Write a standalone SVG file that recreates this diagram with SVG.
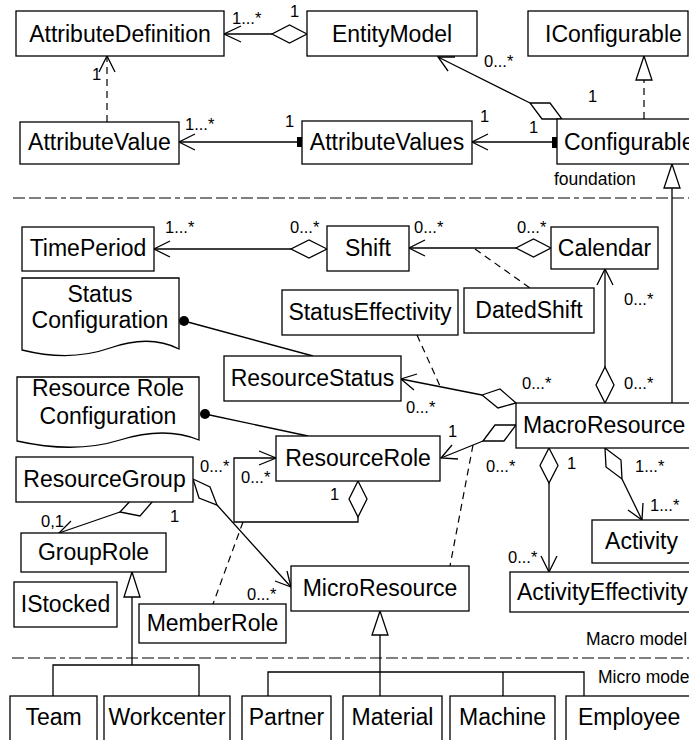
<svg xmlns="http://www.w3.org/2000/svg" width="689" height="740" viewBox="0 0 689 740">
  <style>
    text { font-family: "Liberation Sans", Arial, sans-serif; fill: #000; }
    .n { font-size: 23px; }
    .c { text-anchor: middle; }
    .m { font-size: 16.5px; }
    .s { font-size: 17.5px; }
    rect, .doc { fill: #fff; stroke: #000; stroke-width: 1.3; }
    .ln { fill: none; stroke: #000; stroke-width: 1.3; }
    .dash { fill: none; stroke: #000; stroke-width: 1.2; stroke-dasharray: 7 5; }
    .sep { fill: none; stroke: #555; stroke-width: 1.3; stroke-dasharray: 12 4 12 4 12 4 5 4; }
    .dia { fill: #fff; stroke: #000; stroke-width: 1.3; }
    .tri { fill: #fff; stroke: #000; stroke-width: 1.3; }
  </style>

  <rect x="0" y="0" width="689" height="740" style="fill:#fff;stroke:none"/>

  <!-- package separators -->
  <g id="separators">
    <line class="sep" x1="13" y1="198" x2="689" y2="198"/>
    <line class="sep" x1="12" y1="658" x2="689" y2="658"/>
    <text class="s" x="554" y="185">foundation</text>
    <text class="s" x="586" y="645">Macro model</text>
    <text class="s" x="598" y="683">Micro model</text>
  </g>

  <!-- connectors -->
  <g id="connectors">
    <!-- EntityModel aggregates AttributeDefinition -->
    <line class="ln" x1="272" y1="34" x2="224" y2="34"/>
    <polyline class="ln" points="241,26 224,34 241,42"/>
    <polygon class="dia" points="307,34 289.5,25 272,34 289.5,43"/>
    <text class="m" x="232" y="24">1...*</text>
    <text class="m" x="290" y="17">1</text>

    <!-- AttributeValue depends on AttributeDefinition -->
    <line class="dash" x1="107" y1="122" x2="107" y2="57"/>
    <polyline class="ln" points="99,72 107,56 115,72"/>
    <text class="m" x="92" y="80">1</text>

    <!-- AttributeValues to AttributeValue -->
    <line class="ln" x1="297" y1="142" x2="179" y2="142"/>
    <polyline class="ln" points="195,134 179,142 195,150"/>
    <rect x="297" y="137" width="10" height="10" style="fill:#000;stroke:none"/>
    <text class="m" x="185" y="130">1...*</text>
    <text class="m" x="285" y="127">1</text>

    <!-- Configurable to AttributeValues -->
    <line class="ln" x1="552" y1="142" x2="472" y2="142"/>
    <polyline class="ln" points="488,134 472,142 488,150"/>
    <rect x="552" y="137" width="10" height="11" style="fill:#000;stroke:none"/>
    <text class="m" x="480" y="122">1</text>
    <text class="m" x="529" y="133">1</text>

    <!-- Configurable aggregates EntityModel -->
    <line class="ln" x1="530" y1="103" x2="438" y2="57"/>
    <polyline class="ln" points="448,71 438,57 455,57"/>
    <polygon class="dia" points="530,103 550,103 562,119 542,119"/>
    <text class="m" x="484" y="67">0...*</text>
    <text class="m" x="588" y="102">1</text>

    <!-- Configurable realizes IConfigurable -->
    <line class="dash" x1="644" y1="119" x2="644" y2="80"/>
    <polygon class="tri" points="644,56 636,80 652,80"/>

    <!-- MacroResource generalizes to Configurable -->
    <line class="ln" x1="672" y1="188" x2="672" y2="403"/>
    <polygon class="tri" points="672,164 664,188 680,188"/>

    <!-- Shift aggregates TimePeriod -->
    <line class="ln" x1="291" y1="249" x2="154" y2="249"/>
    <polyline class="ln" points="170,241 154,249 170,257"/>
    <polygon class="dia" points="327,249 309,240 291,249 309,258"/>
    <text class="m" x="165" y="233">1...*</text>
    <text class="m" x="290" y="233">0...*</text>

    <!-- Calendar aggregates Shift, with DatedShift association class -->
    <line class="ln" x1="516" y1="248" x2="409" y2="248"/>
    <polyline class="ln" points="425,240 409,248 425,256"/>
    <polygon class="dia" points="551,248 533.5,239 516,248 533.5,257"/>
    <text class="m" x="414" y="233">0...*</text>
    <text class="m" x="517" y="233">0...*</text>
    <line class="dash" x1="475" y1="249" x2="530" y2="288"/>

    <!-- MacroResource aggregates Calendar -->
    <line class="ln" x1="605" y1="367" x2="605" y2="269"/>
    <polyline class="ln" points="597,285 605,269 613,285"/>
    <polygon class="dia" points="605,403 614,385 605,367 596,385"/>
    <text class="m" x="624" y="305">0...*</text>
    <text class="m" x="624" y="389">0...*</text>

    <!-- StatusConfiguration note attached to ResourceStatus -->
    <line class="ln" x1="184" y1="321" x2="313" y2="356"/>
    <circle cx="184" cy="321" r="5" fill="#000"/>

    <!-- MacroResource aggregates ResourceStatus, with StatusEffectivity -->
    <line class="ln" x1="482" y1="395" x2="401" y2="379"/>
    <polyline class="ln" points="417,374 401,379 414,390"/>
    <polygon class="dia" points="482,395 500,389 516,403 498,408"/>
    <line class="dash" x1="417" y1="335" x2="440" y2="386"/>
    <text class="m" x="522" y="389">0...*</text>
    <text class="m" x="406" y="413">0...*</text>

    <!-- ResourceRoleConfiguration note attached to ResourceRole -->
    <line class="ln" x1="205" y1="414" x2="308" y2="436"/>
    <circle cx="205" cy="414" r="5" fill="#000"/>

    <!-- MacroResource aggregates ResourceRole, with MicroResource -->
    <line class="ln" x1="483" y1="441" x2="441" y2="458"/>
    <polyline class="ln" points="452,445 441,458 458,459"/>
    <polygon class="dia" points="483,441 495,425 516,425 504,441"/>
    <line class="dash" x1="473" y1="445" x2="450" y2="566"/>
    <text class="m" x="448" y="437">1</text>
    <text class="m" x="486" y="472">0...*</text>

    <!-- ResourceRole self association, with MemberRole -->
    <polyline class="ln" points="276,458 234,458 234,522 358,522 358,517"/>
    <polyline class="ln" points="259,451 276,458 259,465"/>
    <polygon class="dia" points="358,481 367,499 358,517 349,499"/>
    <line class="dash" x1="243" y1="522" x2="213" y2="604"/>
    <text class="m" x="200" y="472">0...*</text>
    <text class="m" x="241" y="483">0...*</text>
    <text class="m" x="330" y="500">1</text>

    <!-- ResourceGroup aggregates MicroResource -->
    <line class="ln" x1="217" y1="505" x2="291" y2="587"/>
    <polyline class="ln" points="287,571 291,587 275,581"/>
    <polygon class="dia" points="193,479 210,487 217,505 199,498"/>
    <text class="m" x="170" y="522">1</text>
    <text class="m" x="247" y="600">0...*</text>

    <!-- ResourceGroup aggregates GroupRole -->
    <line class="ln" x1="120" y1="512" x2="59" y2="533"/>
    <polyline class="ln" points="71,521 59,533 76,536"/>
    <polygon class="dia" points="120,512 133,498 153,501 140,516"/>
    <text class="m" x="41" y="527">0,1</text>

    <!-- MacroResource aggregates ActivityEffectivity -->
    <line class="ln" x1="549" y1="483" x2="549" y2="572"/>
    <polyline class="ln" points="541,556 549,572 557,556"/>
    <polygon class="dia" points="549,448 558,465.5 549,483 540,465.5"/>
    <text class="m" x="567" y="469">1</text>
    <text class="m" x="508" y="563">0...*</text>

    <!-- MacroResource aggregates Activity -->
    <line class="ln" x1="622" y1="479" x2="642" y2="520"/>
    <polyline class="ln" points="628,510 642,520 643,503"/>
    <polygon class="dia" points="605,448 621,460 622,479 606,467"/>
    <text class="m" x="635" y="472">1...*</text>
    <text class="m" x="650" y="511">1...*</text>

    <!-- GroupRole generalization tree -->
    <polygon class="tri" points="132,572 124,597 140,597"/>
    <polyline class="ln" points="132,597 132,665"/>
    <polyline class="ln" points="53,696 53,665 199,665 199,696"/>

    <!-- MicroResource generalization tree -->
    <polygon class="tri" points="380,611 372,635 388,635"/>
    <line class="ln" x1="380" y1="635" x2="380" y2="696"/>
    <polyline class="ln" points="268,696 268,672 584,672 584,696"/>
    <line class="ln" x1="503" y1="672" x2="503" y2="696"/>
  </g>

  <!-- foundation package -->
  <g id="AttributeDefinition"><rect x="16" y="11" width="208" height="45"/><text class="n c" x="120" y="41.5">AttributeDefinition</text></g>
  <g id="EntityModel"><rect x="307" y="11" width="170" height="45"/><text class="n c" x="392" y="41.5">EntityModel</text></g>
  <g id="IConfigurable"><rect x="528" y="11" width="160" height="45"/><text class="n" x="545" y="41.5">IConfigurable</text></g>
  <g id="AttributeValue"><rect x="20" y="122" width="159" height="42"/><text class="n c" x="99.5" y="150">AttributeValue</text></g>
  <g id="AttributeValues"><rect x="302" y="121" width="170" height="43"/><text class="n c" x="387" y="150">AttributeValues</text></g>
  <g id="Configurable"><rect x="557" y="119" width="145" height="45"/><text class="n" x="564" y="150">Configurable</text></g>

  <!-- macro model package -->
  <g id="TimePeriod"><rect x="22" y="227" width="132" height="44"/><text class="n c" x="88" y="256">TimePeriod</text></g>
  <g id="Shift"><rect x="327" y="226" width="82" height="45"/><text class="n c" x="368" y="256">Shift</text></g>
  <g id="Calendar"><rect x="551" y="227" width="107" height="42"/><text class="n c" x="604.5" y="256">Calendar</text></g>
  <g id="StatusConfiguration">
    <path class="doc" d="M22,278 H179 V349 Q150,334 110,348 T22,350 Z"/>
    <text class="n c" x="100" y="302">Status</text>
    <text class="n c" x="100" y="328">Configuration</text>
  </g>
  <g id="StatusEffectivity"><rect x="282" y="290" width="176" height="45"/><text class="n c" x="370" y="320">StatusEffectivity</text></g>
  <g id="DatedShift"><rect x="464" y="288" width="130" height="45"/><text class="n c" x="529" y="318">DatedShift</text></g>
  <g id="ResourceStatus"><rect x="224" y="356" width="177" height="45"/><text class="n c" x="312.5" y="386">ResourceStatus</text></g>
  <g id="ResourceRoleConfiguration">
    <path class="doc" d="M17,377 H199 V440 Q165,426 120,440 T17,441 Z"/>
    <text class="n c" x="108" y="396">Resource Role</text>
    <text class="n c" x="108" y="424">Configuration</text>
  </g>
  <g id="MacroResource"><rect x="516" y="403" width="185" height="45"/><text class="n" x="523" y="433">MacroResource</text></g>
  <g id="ResourceGroup"><rect x="16" y="457" width="177" height="45"/><text class="n c" x="104.5" y="487">ResourceGroup</text></g>
  <g id="ResourceRole"><rect x="276" y="436" width="164" height="45"/><text class="n c" x="358" y="466">ResourceRole</text></g>
  <g id="GroupRole"><rect x="21" y="533" width="145" height="39"/><text class="n c" x="93.5" y="560">GroupRole</text></g>
  <g id="Activity"><rect x="592" y="520" width="99" height="43"/><text class="n c" x="641.5" y="549">Activity</text></g>
  <g id="ActivityEffectivity"><rect x="510" y="572" width="190" height="40"/><text class="n" x="517" y="600">ActivityEffectivity</text></g>
  <g id="MicroResource"><rect x="291" y="566" width="178" height="45"/><text class="n c" x="380" y="596">MicroResource</text></g>
  <g id="IStocked"><rect x="14" y="582" width="103" height="45"/><text class="n c" x="65.5" y="612">IStocked</text></g>
  <g id="MemberRole"><rect x="139" y="604" width="147" height="39"/><text class="n c" x="212.5" y="631">MemberRole</text></g>

  <!-- micro model package -->
  <g id="Team"><rect x="10" y="696" width="87" height="60"/><text class="n c" x="53.5" y="725">Team</text></g>
  <g id="Workcenter"><rect x="104" y="696" width="126" height="60"/><text class="n c" x="167" y="725">Workcenter</text></g>
  <g id="Partner"><rect x="242" y="696" width="89" height="60"/><text class="n c" x="286.5" y="725">Partner</text></g>
  <g id="Material"><rect x="343" y="696" width="99" height="60"/><text class="n c" x="392.5" y="725">Material</text></g>
  <g id="Machine"><rect x="450" y="696" width="105" height="60"/><text class="n c" x="502.5" y="725">Machine</text></g>
  <g id="Employee"><rect x="566" y="696" width="134" height="60"/><text class="n" x="578" y="725">Employee</text></g>
</svg>
